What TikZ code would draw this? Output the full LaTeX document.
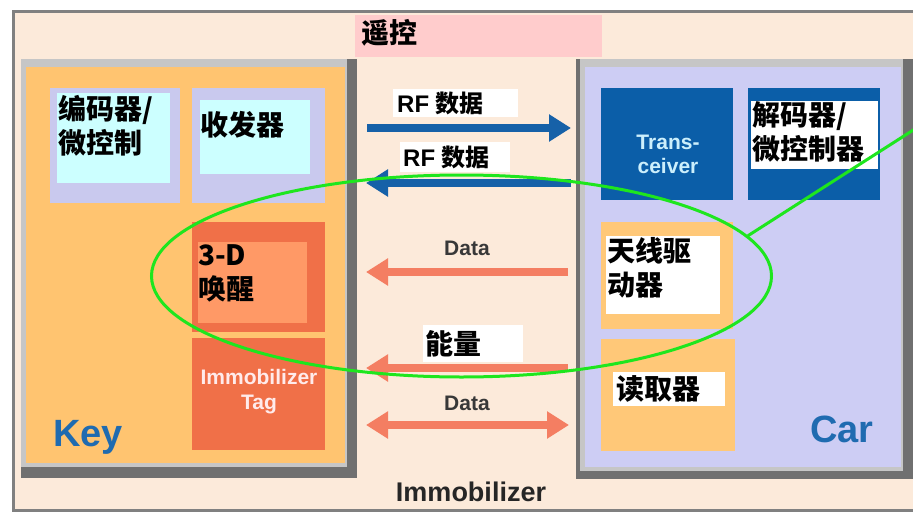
\documentclass[tikz,border=0pt]{standalone}
\usepackage{fontspec}
\setmainfont{Liberation Sans}
\newfontfamily\cjk{Noto Sans CJK SC}
\usetikzlibrary{shapes.geometric,arrows.meta}
\definecolor{peach}{HTML}{FCEADA}
\definecolor{shadowgray}{HTML}{707070}
\definecolor{framegray}{HTML}{C6C6C6}
\definecolor{keyorange}{HTML}{FFC470}
\definecolor{carlav}{HTML}{CDCDF4}
\definecolor{boxlav}{HTML}{C9C9EE}
\definecolor{boxcyan}{HTML}{CCFFFF}
\definecolor{redbox}{HTML}{F07048}
\definecolor{salmonbox}{HTML}{FF9966}
\definecolor{darkblue}{HTML}{0B5EA8}
\definecolor{lightorange}{HTML}{FFC878}
\definecolor{pinklab}{HTML}{FFCCCC}
\definecolor{arrblue}{HTML}{1661A8}
\definecolor{arrsalmon}{HTML}{F47E62}
\definecolor{titleblue}{HTML}{1F6BB0}
\definecolor{loopgreen}{HTML}{1EE61E}
\tikzset{
  box/.style={anchor=north west, inner sep=0pt, outer sep=0pt},
  cjklbl/.style={inner sep=0pt, align=left, font=\cjk\bfseries\fontsize{28}{34}\selectfont},
  rflbl/.style={inner sep=0pt, anchor=west, font=\bfseries\fontsize{24}{28}\selectfont},
  datalbl/.style={inner sep=0pt, text=black!78, font=\bfseries\fontsize{21}{24}\selectfont},
  bigtitle/.style={inner sep=0pt, anchor=base west, text=titleblue, font=\bfseries\fontsize{38}{40}\selectfont},
  faint/.style={inner sep=0pt, align=center, font=\bfseries\fontsize{21}{24}\selectfont},
  tip/.tip={Triangle[length=22pt,width=26pt]},
  blueline/.style={draw=arrblue, line width=8pt, -tip},
  salmonline/.style={draw=arrsalmon, line width=8pt, -tip},
  salmonboth/.style={draw=arrsalmon, line width=8pt, tip-tip},
}
\newcommand\rbox[6]{\node[box, fill=#2, minimum width=#5pt, minimum height=#6pt] (#1) at (#3,#4) {};}
\begin{document}
\begin{tikzpicture}[x=1pt,y=-1pt]
\useasboundingbox (0,0) rectangle (913,514);
\fill[white] (0,0) rectangle (913,514);
\fill[peach] (12,10) rectangle (913,512);
\draw[gray, line width=3pt] (918,11.5) -- (13.5,11.5) -- (13.5,510.5) -- (918,510.5);

% remote-control title
\rbox{pink}{pinklab}{355}{15}{247}{42}
\node[cjklbl, anchor=north west] (tyk) at (361,19) {遥控};

% Key panel
\rbox{keyshadow}{shadowgray}{21}{59}{336}{419}
\rbox{keyframe}{framegray}{21}{59}{326}{408}
\rbox{key}{keyorange}{26}{67}{319}{396}
\rbox{encF}{boxlav}{50}{88}{130}{115}
\rbox{enc}{boxcyan}{57}{93}{113}{90}
\node[cjklbl, anchor=north west] (tenc) at (58,95) {编码器/\\微控制};
\rbox{trxF}{boxlav}{192}{88}{133}{115}
\rbox{trx}{boxcyan}{200}{100}{110}{74}
\node[cjklbl, anchor=north west] (ttrx) at (200,111) {收发器};
\rbox{wakeF}{redbox}{192}{222}{133}{110}
\rbox{wake}{salmonbox}{198}{242}{109}{81}
\node[cjklbl, anchor=north west] (twake) at (198,244) {3-D\\唤醒};
\rbox{tag}{redbox}{192}{338}{133}{112}
\node[faint, text=white!92!red, font=\bfseries\fontsize{21}{25}\selectfont] (ttag) at (259,392) {Immobilizer\\Tag};
\node[bigtitle] (tkey) at (53,446) {Key};

% Car panel
\rbox{carshadow}{shadowgray}{576}{59}{337}{420}
\rbox{carframe}{framegray}{580}{59}{323}{412}
\rbox{car}{carlav}{585}{67}{316}{400}
\rbox{trans}{darkblue}{601}{88}{132}{112}
\node[faint, text=white!80!cyan] (ttrans) at (668,154) {Trans-\\ceiver};
\rbox{ctrl}{darkblue}{748}{88}{132}{112}
\rbox{ctrlW}{white}{751}{101}{127}{68}
\node[cjklbl, anchor=north west] (tctrl) at (752,101) {解码器/\\微控制器};
\rbox{ant}{lightorange}{601}{222}{132}{107}
\rbox{antW}{white}{606}{236}{114}{78}
\node[cjklbl, anchor=north west] (tant) at (607,237) {天线驱\\动器};
\rbox{rdr}{lightorange}{601}{339}{134}{112}
\rbox{rdrW}{white}{613}{372}{112}{34}
\node[cjklbl, anchor=west] (trdr) at (616,389) {读取器};
\node[bigtitle] (tcar) at (810,442) {Car};

% arrows in the gap
\coordinate (rf1s) at (367,128); \coordinate (rf1e) at (571,128);
\coordinate (rf2s) at (571,183); \coordinate (rf2e) at (366,183);
\coordinate (d1s) at (568,272);  \coordinate (d1e) at (366,272);
\coordinate (ens) at (568,368);  \coordinate (ene) at (366,368);
\coordinate (d2s) at (366,425);  \coordinate (d2e) at (569,425);
\draw[blueline] (rf1s) -- (rf1e);
\draw[blueline] (rf2s) -- (rf2e);
\draw[salmonline] (d1s) -- (d1e);
\draw[salmonline] (ens) -- (ene);
\draw[salmonboth] (d2s) -- (d2e);

\rbox{rf1W}{white}{393}{89}{125}{28}
\node[rflbl] (trf1) at (397,103) {RF {\cjk 数据}};
\rbox{rf2W}{white}{400}{142}{110}{30}
\node[rflbl] (trf2) at (403,157) {RF {\cjk 数据}};
\node[datalbl] (tdata1) at (467,248) {Data};
\rbox{enW}{white}{423}{325}{100}{37}
\node[cjklbl, anchor=west] (ten) at (425,344) {能量};
\node[datalbl] (tdata2) at (467,403) {Data};
\node[inner sep=0pt, text=black!85, font=\bfseries\fontsize{27}{30}\selectfont] (timm) at (471,492) {Immobilizer};

% green highlight
\node[draw=loopgreen, line width=3pt, ellipse, minimum width=620pt, minimum height=202pt, inner sep=0pt] (loop) at (461.5,276) {};
\coordinate (gend) at (918,127);
\draw[loopgreen, line width=3pt] (loop.8) -- (gend);
\end{tikzpicture}
\end{document}
